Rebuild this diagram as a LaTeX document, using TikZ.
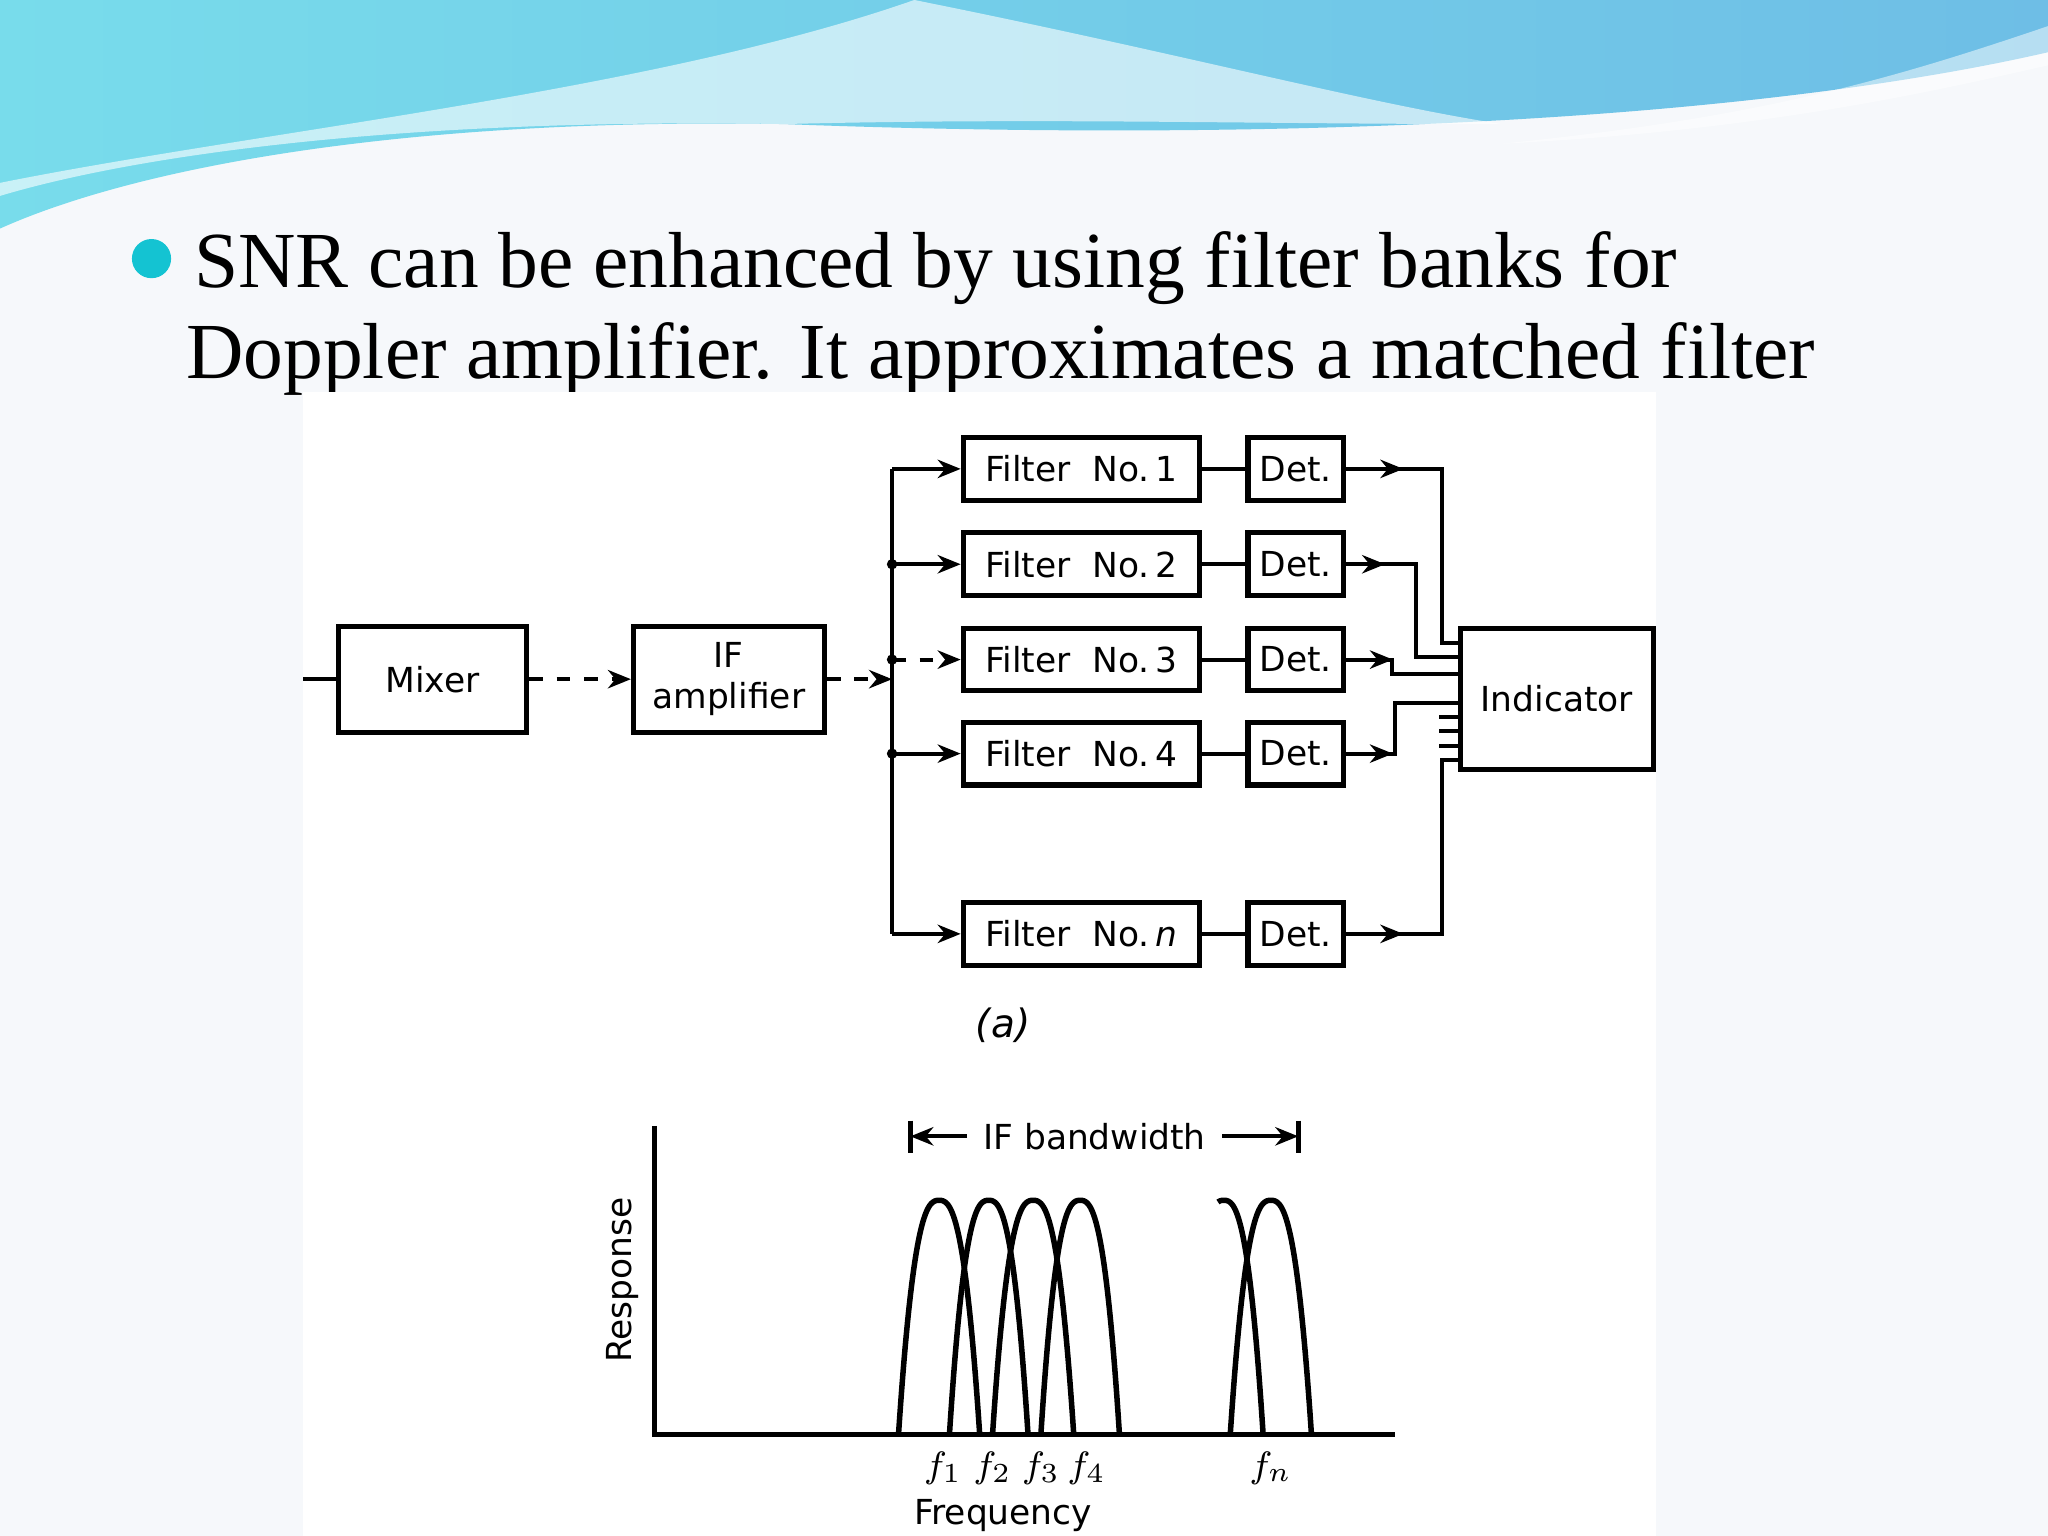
\documentclass[tikz,border=0pt]{standalone}
\usepackage{fontspec}
\setmainfont{Liberation Serif}
\newfontfamily\dgm{DejaVu Sans}
\usetikzlibrary{arrows.meta}
\definecolor{bg}{RGB}{246,248,251}
\definecolor{cyanA}{RGB}{120,220,235}
\definecolor{blueA}{RGB}{110,190,230}
\definecolor{bul}{RGB}{20,195,210}
\tikzset{
 blk/.style={draw,line width=1.1pt,font=\dgm\fontsize{7.5}{9}\selectfont,align=center,inner sep=0pt},
 ln/.style={line width=0.9pt},
 arr/.style={line width=0.9pt,-{Stealth[length=5pt,width=4pt]}},
 dsh/.style={line width=0.9pt,dash pattern=on 3pt off 3pt},
 crv/.style={line width=1.2pt},
 lab/.style={font=\dgm\fontsize{7.5}{9}\selectfont},
}
\begin{document}
\begin{tikzpicture}[x=0.01cm,y=-0.01cm]
\useasboundingbox (0,0) rectangle (1568,1176);
\fill[bg] (0,0) rectangle (1568,1176);
% header wave
\shade[left color=cyanA,right color=blueA] (0,0)--(1568,0)--(1568,40) .. controls (1350,90) and (1000,110) .. (600,95) .. controls (300,90) and (100,130) .. (0,175)--cycle;
\fill[white,opacity=0.6] (700,0) .. controls (900,40) and (1050,80) .. (1150,95) .. controls (950,95) and (800,90) .. (600,95) .. controls (300,90) and (100,120) .. (0,150) -- (0,140) .. controls (200,100) and (500,70) .. (700,0) -- cycle;
\fill[white,opacity=0.5] (1568,20) .. controls (1450,60) and (1350,90) .. (1150,110) .. controls (1350,100) and (1480,70) .. (1568,50)--cycle;
% bullet text
\fill[bul] (116,198) circle (15);
\node[anchor=base west,font=\fontsize{17.3}{20}\selectfont,inner sep=0pt] (t1) at (148,220) {SNR can be enhanced by using filter banks for};
\node[anchor=base west,font=\fontsize{17.3}{20}\selectfont,inner sep=0pt] (t2) at (142,290) {Doppler amplifier. It approximates a matched filter};
% white figure area
\fill[white] (232,300) rectangle (1268,1176);
% blocks
\node[blk,minimum width=1.44cm,minimum height=0.81cm] (mix) at (331,520) {Mixer};
\node[blk,minimum width=1.46cm,minimum height=0.81cm] (ifa) at (558,520) {IF\\amplifier};
\foreach \i/\y/\t in {1/359/1,2/432/2,3/505/3,4/577/4,n/715/{\textit{n}}}{
 \node[blk,minimum width=1.81cm,minimum height=0.48cm] (f\i) at (828,\y) {Filter\ \ No.\,\t};
 \node[blk,minimum width=0.73cm,minimum height=0.48cm] (d\i) at (992,\y) {Det.};
 \draw[ln] (f\i) -- (d\i);
}
\node[blk,minimum width=1.48cm,minimum height=1.08cm] (ind) at (1192,535) {Indicator};
\coordinate (in) at (232,520);
\draw[ln] (in) -- (mix);
\draw[dsh,-{Stealth[length=5pt,width=4pt]}] (mix) -- (ifa);
\coordinate (bus) at (683,520);
\draw[dsh,-{Stealth[length=5pt,width=4pt]}] (ifa) -- (bus);
\draw[ln] (f1.west -| bus) -- (fn.west -| bus);
\foreach \i in {1,2,4,n} \draw[arr] (f\i.west -| bus) -- (f\i.west);
\draw[dsh,-{Stealth[length=5pt,width=4pt]}] (f3.west -| bus) -- (f3.west);
\foreach \i in {2,3,4} \fill (f\i.west -| bus) circle (4);
% outputs
\draw[arr] (d1.east) -- ++(44,0); \draw[ln] (d1.east) -- (1104,359) -- (1104,492) -- (ind.west |- 0,492);
\draw[arr] (d2.east) -- ++(30,0); \draw[ln] (d2.east) -- (1084,432) -- (1084,503) -- (ind.west |- 0,503);
\draw[arr] (d3.east) -- ++(36,0); \draw[ln] (d3.east) -- (1066,505) -- (1066,516) -- (ind.west |- 0,516);
\draw[arr] (d4.east) -- ++(36,0); \draw[ln] (d4.east) -- (1068,577) -- (1068,538) -- (ind.west |- 0,538);
\foreach \y in {549,560,571} \draw[ln] (1102,\y) -- (ind.west |- 0,\y);
\draw[arr] (dn.east) -- ++(44,0); \draw[ln] (dn.east) -- (1104,715) -- (1104,582) -- (ind.west |- 0,582);
\node[lab,font=\dgm\itshape\fontsize{8.5}{10}\selectfont] (a) at (768,785) {(a)};
% response plot
\draw[line width=1.1pt] (501,862) -- (501,1098) -- (1068,1098);
\node[lab,rotate=90] (resp) at (477,980) {Response};
\foreach \xp/\hw in {719/31,757/30,791/31,827/30,973/31}{
 \draw[crv] plot[domain=-1:1,samples=61,smooth] ({\xp+\hw*\x},{1097-178*(1-(abs(\x))^2.6)});
}
\draw[crv] plot[domain=-0.15:1,samples=40,smooth] ({937+30*\x},{1097-178*(1-(abs(\x))^2.6)});
\foreach \x/\s in {722/1,760/2,797/3,832/4}{\node[lab,font=\dgm\fontsize{8.5}{10}\selectfont] at (\x,1124) {$f_{\s}$};}
\node[lab,font=\dgm\fontsize{8.5}{10}\selectfont] (fn) at (973,1124) {$f_n$};
\node[lab] (freq) at (768,1160) {Frequency};
\node[lab] (bw) at (838,870) {IF bandwidth};
\coordinate (bl) at (697,870); \coordinate (br) at (994,870);
\draw[line width=1.1pt] (697,858) -- (697,883); \draw[line width=1.1pt] (994,858) -- (994,883);
\draw[arr] (bw.west) -- (bl); \draw[arr] (bw.east) -- (br);
\end{tikzpicture}
\end{document}
